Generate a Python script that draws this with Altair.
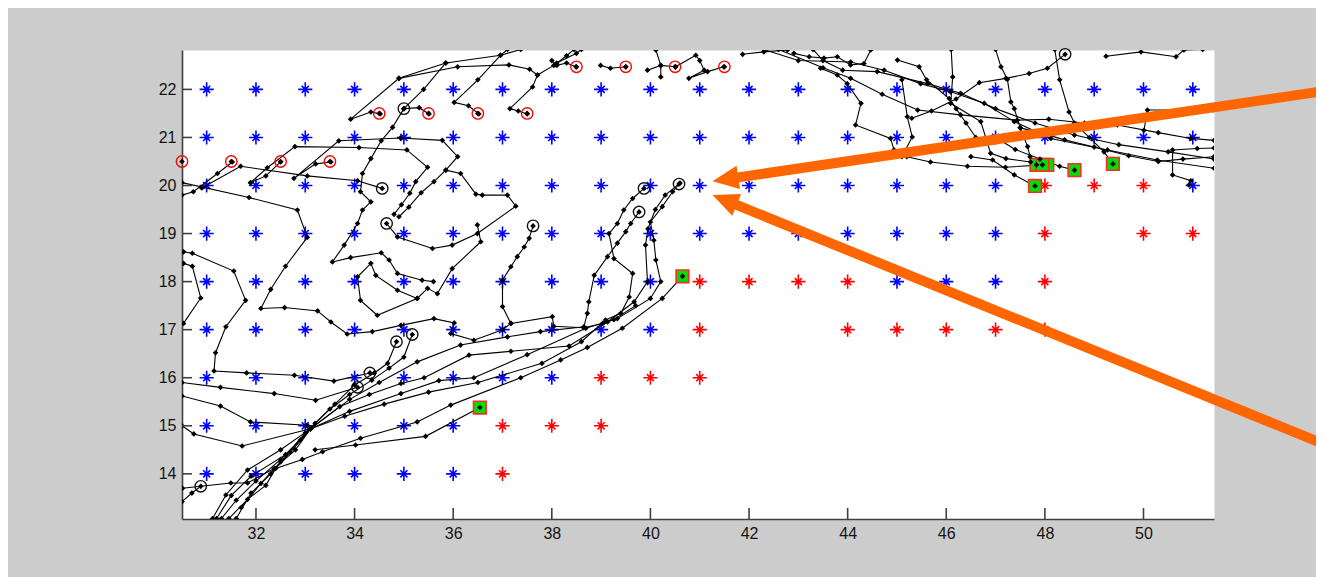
import math
import altair as alt
import pandas as pd

# ---------------- axes ----------------
X_DOMAIN = [30.5, 51.43]
Y_DOMAIN = [13.06, 22.82]
PLOT_W, PLOT_H = 1032, 469
X_TICKS = [32, 34, 36, 38, 40, 42, 44, 46, 48, 50]
Y_TICKS = [14, 15, 16, 17, 18, 19, 20, 21, 22]

# ---------------- grid of asterisks (lat -> list of lon) ----------------
BLUE_ROWS = {
    22: [31, 32, 33, 34, 35, 36, 37, 38, 39, 40, 41, 42, 43, 44, 45, 46, 47, 48, 49, 50, 51],
    21: [31, 32, 33, 34, 35, 36, 37, 38, 39, 40, 41, 42, 43, 44, 45, 46, 47, 48, 49, 50, 51],
    20: [31, 32, 33, 34, 35, 36, 37, 38, 39, 40, 41, 42, 43, 44, 45, 46, 47, 51],
    19: [31, 32, 33, 34, 35, 36, 37, 38, 39, 40, 41, 42, 43, 44, 45, 46, 47],
    18: [31, 32, 33, 34, 35, 36, 37, 38, 39, 40, 45, 46, 47],
    17: [31, 32, 33, 34, 35, 36, 37, 38, 39, 40],
    16: [31, 32, 33, 34, 35, 36, 37, 38],
    15: [31, 32, 33, 34, 35, 36],
    14: [31, 32, 33, 34, 35, 36],
}
RED_ROWS = {
    20: [48, 49, 50],
    19: [48, 50, 51],
    18: [41, 42, 43, 44, 48],
    17: [41, 44, 45, 46, 47, 48],
    16: [39, 40, 41],
    15: [37, 38, 39],
    14: [37],
}

# ---------------- special markers ----------------
START_LON = [30.5, 31.5, 32.5, 33.5, 34.5, 35.5, 36.5, 37.5, 38.5, 39.5, 40.5, 41.5]
START_LAT = [20.5, 20.5, 20.5, 20.5, 21.5, 21.5, 21.5, 21.5, 22.47, 22.47, 22.47, 22.47]

END_LON = [35.0, 34.56, 34.65, 37.62, 39.87, 40.58, 39.77, 34.85, 35.17, 34.31, 34.06, 30.88, 48.41]
END_LAT = [21.6, 19.94, 19.21, 19.16, 19.94, 20.03, 19.45, 16.75, 16.9, 16.1, 15.8, 13.74, 22.73]

GREEN_LON = [36.54, 40.65, 47.83, 48.05, 47.95, 48.6, 49.38, 47.8]
GREEN_LAT = [15.38, 18.11, 20.43, 20.43, 20.43, 20.32, 20.45, 19.99]

# ---------------- arrows (annotation) ----------------
ARROW_START_LON = [53.75, 53.75]
ARROW_START_LAT = [21.98, 14.58]
ARROW_TIP_LON = [41.26, 41.26]
ARROW_TIP_LAT = [20.09, 19.80]

# ---------------- tracks [lon, lat] ----------------
T01 = [[31.45, 13.07], [31.83, 13.47], [32.2, 13.76], [32.4, 14.11], [32.94, 14.3], [33.35, 14.46], [34.12, 14.74], [35.27, 15.08], [35.95, 15.43], [37.37, 16.0], [38.18, 16.37], [38.72, 16.63], [39.43, 17.03], [40.24, 17.65], [40.65, 18.11]]
T02 = [[31.12, 13.07], [31.39, 13.56], [31.83, 14.08], [32.5, 14.5], [33.11, 14.94], [33.9, 15.3], [34.94, 15.67], [35.71, 15.94], [36.42, 16.0], [37.5, 16.48], [38.69, 17.03], [39.33, 17.23], [40.0, 17.65], [40.21, 18.0], [40.11, 18.45], [40.07, 18.86], [40.0, 19.24], [40.24, 19.56], [40.45, 19.87], [40.58, 20.03]]
T03 = [[30.51, 13.7], [31.49, 13.81], [31.83, 13.81], [32.37, 14.11], [32.8, 14.5], [33.11, 14.94], [33.7, 15.4], [34.3, 15.65], [34.94, 15.88], [35.41, 16.0], [36.32, 16.47], [37.17, 16.55], [38.35, 16.66], [39.13, 17.16], [39.67, 17.58], [39.94, 18.0], [39.9, 18.76], [39.95, 19.1], [40.1, 19.5], [40.3, 19.8], [40.6, 20.05]]
T04 = [[31.2, 13.07], [31.5, 13.55], [31.9, 13.95], [32.6, 14.4], [33.11, 14.94], [33.8, 15.2], [34.6, 15.45], [35.5, 15.7], [36.5, 15.9], [37.8, 16.3], [38.6, 16.75], [39.09, 17.2], [39.4, 17.34], [39.57, 17.68], [39.64, 18.17], [39.26, 18.48], [39.16, 19.0], [39.33, 19.21], [39.46, 19.49], [39.64, 19.73], [39.87, 19.94]]
T05 = [[31.6, 13.07], [31.9, 13.6], [32.3, 14.0], [32.7, 14.45], [33.11, 14.94], [33.9, 15.55], [34.5, 15.9], [35.27, 16.33], [36.15, 16.68], [37.1, 16.85], [37.77, 16.96], [38.65, 17.06], [38.72, 17.34], [38.75, 17.58], [38.86, 18.13], [39.13, 18.52], [39.33, 18.8], [39.5, 19.04], [39.6, 19.21], [39.77, 19.45]]
T06 = [[31.3, 13.07], [31.6, 13.45], [32.0, 13.85], [32.5, 14.3], [32.9, 14.7], [33.2, 15.05], [33.6, 15.45], [34.0, 15.85], [34.4, 16.1], [34.67, 16.3], [34.85, 16.75]]
T07 = [[31.7, 13.3], [32.1, 13.8], [32.5, 14.25], [33.0, 14.85], [33.5, 15.35], [33.9, 15.65], [34.35, 15.95], [34.7, 16.2], [35.0, 16.43], [35.17, 16.9]]
T08 = [[30.5, 13.42], [30.7, 13.6], [30.88, 13.74]]
T09 = [[33.2, 14.5], [34.02, 14.6], [35.44, 14.78], [36.54, 15.38]]
T10 = [[30.5, 15.9], [31.28, 15.8], [32.37, 15.67], [33.21, 15.53], [34.06, 15.8]]
T11 = [[30.53, 18.62], [30.71, 18.59], [31.55, 18.22], [31.79, 17.61], [31.39, 17.06], [31.18, 16.52], [31.15, 16.14], [31.81, 16.1], [32.78, 16.05], [33.58, 15.93], [34.31, 16.1]]
T12 = [[30.53, 18.38], [30.71, 18.32], [30.88, 17.66], [30.53, 17.13]]
T13 = [[30.5, 15.62], [31.28, 15.41], [31.89, 15.08], [33.04, 15.01], [33.11, 14.94]]
T14 = [[30.5, 15.0], [30.74, 14.83], [31.72, 14.58], [33.11, 14.94]]
T15 = [[30.5, 20.06], [31.86, 19.75], [32.84, 19.49], [33.04, 18.92], [32.6, 18.32], [32.3, 17.84], [32.1, 17.44], [32.58, 17.46], [33.25, 17.39], [33.52, 17.16], [33.85, 16.91], [34.36, 16.96], [34.94, 17.09], [35.61, 17.23], [36.02, 17.14], [35.95, 16.92], [36.42, 16.78], [37.0, 17.0], [37.17, 17.13], [38.01, 17.27], [38.04, 17.07], [38.65, 17.04], [39.03, 17.13], [39.26, 17.21], [39.7, 17.5]]
T16 = [[37.17, 17.13], [37.0, 17.48], [37.0, 18.03], [37.17, 18.31], [37.3, 18.52], [37.44, 18.72], [37.54, 18.9], [37.62, 19.16]]
T17 = [[34.65, 19.21], [34.87, 18.93], [35.58, 18.69], [35.98, 18.76], [36.49, 19.0], [37.27, 19.57], [37.1, 19.8], [36.59, 19.8], [36.46, 19.82], [36.15, 20.25], [35.85, 20.32]]
T18 = [[31.89, 20.06], [32.23, 20.37], [32.79, 20.81], [34.09, 20.79], [35.06, 20.74], [35.48, 20.38], [35.24, 20.08], [35.12, 19.84], [34.95, 19.6], [34.8, 19.4]]
T19 = [[33.52, 20.49], [33.21, 20.45], [32.77, 20.15], [33.68, 20.93], [34.93, 20.99], [35.78, 20.94], [36.09, 20.6], [35.85, 20.32], [35.61, 20.08], [35.35, 19.85], [35.1, 19.55], [34.9, 19.35]]
T20 = [[31.52, 20.49], [31.22, 20.25], [30.73, 19.87], [30.5, 19.8]]
T21 = [[32.5, 20.49], [32.2, 20.2], [31.89, 20.06]]
T22 = [[30.9, 19.95], [31.69, 20.4], [33.04, 20.2], [34.06, 20.1], [34.56, 19.94]]
T23 = [[35.51, 21.49], [35.31, 21.62], [35.0, 21.6]]
T24 = [[35.0, 21.6], [34.77, 21.21], [34.54, 20.93], [34.33, 20.56], [34.16, 20.25], [34.12, 19.87], [34.33, 19.66], [34.16, 19.49], [34.06, 19.21], [33.79, 18.76], [33.55, 18.41], [33.92, 18.5], [34.54, 18.6], [34.7, 18.45], [34.87, 18.17], [35.37, 18.03], [35.6, 18.0]]
T25 = [[36.49, 19.18], [36.56, 18.83], [35.98, 18.27], [35.68, 17.75], [35.48, 17.86], [35.27, 17.65], [34.46, 17.3], [34.12, 17.61], [34.06, 18.1], [34.33, 18.38], [34.43, 18.13], [34.87, 17.82], [35.27, 17.65]]
T26 = [[35.0, 21.6], [35.4, 22.0], [35.85, 22.55]]
T27 = [[34.52, 21.49], [34.33, 21.53], [33.92, 21.38], [34.9, 22.23], [35.85, 22.55], [36.96, 22.71], [37.37, 22.83]]
T28 = [[36.52, 21.49], [36.31, 21.66], [36.02, 21.73], [36.5, 22.2], [36.96, 22.71], [37.1, 22.83]]
T29 = [[37.5, 21.49], [37.32, 21.55], [37.15, 21.6], [37.61, 22.05], [37.71, 22.3], [37.55, 22.42], [37.13, 22.51], [36.09, 22.47], [34.9, 22.23]]
T30 = [[37.71, 22.3], [38.04, 22.5], [38.3, 22.7], [38.45, 22.83]]
T31 = [[38.49, 22.47], [38.3, 22.55], [38.1, 22.5], [38.0, 22.6]]
T32 = [[38.1, 22.55], [38.5, 22.75], [38.6, 22.83]]
T33 = [[39.5, 22.47], [39.19, 22.44], [38.99, 22.5]]
T34 = [[40.51, 22.47], [40.21, 22.5], [39.94, 22.4]]
T35 = [[40.11, 22.82], [40.21, 22.5], [40.21, 22.26]]
T36 = [[40.51, 22.47], [40.92, 22.71], [41.0, 22.6], [41.09, 22.4], [40.78, 22.23], [41.16, 22.37], [41.49, 22.47]]
T37 = [[41.87, 22.73], [42.3, 22.78], [42.78, 22.82]]
R01 = [[42.91, 22.75], [43.22, 22.68], [43.52, 22.65], [43.79, 22.68], [44.06, 22.51], [44.33, 22.54], [44.47, 22.82]]
R02 = [[43.45, 22.44], [43.79, 22.3], [43.99, 22.12], [44.27, 21.71], [44.16, 21.26], [44.87, 20.98], [44.94, 20.74], [45.2, 20.6], [45.68, 20.49], [46.43, 20.4], [47.2, 20.38], [47.95, 20.43]]
R03 = [[42.3, 22.83], [43.0, 22.6], [44.06, 22.57], [44.74, 22.4], [45.48, 22.12], [46.09, 21.95], [46.77, 21.71], [47.38, 21.33], [48.12, 20.98], [49.27, 20.74], [50.28, 20.53], [51.43, 20.36]]
R04 = [[42.6, 22.83], [43.5, 22.45], [44.06, 22.23], [44.7, 21.9], [45.42, 21.57], [46.29, 21.47], [47.44, 21.36], [48.08, 21.38], [48.8, 21.3], [49.47, 21.26], [50.3, 21.1], [50.96, 20.98], [51.43, 20.94]]
R05 = [[48.41, 22.73], [48.05, 22.44], [47.68, 22.33], [47.21, 22.23], [46.67, 22.14], [46.2, 21.8], [45.7, 21.55], [45.3, 21.4]]
R06 = [[46.1, 22.83], [46.13, 22.26], [46.09, 21.71], [46.7, 21.33], [46.9, 20.67], [47.21, 20.56], [47.71, 20.49], [47.83, 20.43]]
R07 = [[47.0, 22.83], [47.11, 22.47], [47.24, 22.21], [47.31, 21.74], [47.38, 21.6], [47.5, 21.2], [47.65, 20.81], [47.7, 20.6]]
R08 = [[46.5, 20.6], [46.94, 20.53], [47.38, 20.22], [47.8, 19.99]]
R09 = [[48.2, 22.83], [48.3, 22.2], [48.49, 21.53], [48.6, 21.3], [48.9, 21.0], [49.2, 20.7], [49.38, 20.45]]
R10 = [[47.0, 21.0], [47.4, 20.75], [47.9, 20.55], [48.3, 20.4], [48.6, 20.32]]
R11 = [[49.24, 22.69], [49.95, 22.78], [50.66, 22.68], [50.82, 22.82], [51.2, 22.83]]
R12 = [[51.43, 20.78], [51.09, 20.77], [50.59, 20.74], [50.59, 20.22], [50.96, 20.1], [50.92, 20.01]]
R13 = [[50.01, 21.15], [50.08, 21.57], [51.43, 21.57]]
R14 = [[51.43, 20.6], [50.8, 20.55], [50.3, 20.5], [49.7, 20.62], [49.0, 20.8], [48.4, 20.95], [47.9, 21.1], [47.5, 21.2]]
R15 = [[45.1, 22.2], [45.21, 21.43], [45.31, 21.01], [45.1, 20.6]]
R16 = [[45.01, 22.61], [45.45, 22.47], [45.6, 22.2], [46.06, 21.81], [46.2, 21.6], [46.4, 21.3], [46.6, 21.0]]
R17 = [[43.3, 22.83], [43.5, 22.6], [43.9, 22.4], [44.6, 22.37], [45.62, 22.12], [46.29, 21.92], [47.0, 21.6], [47.8, 21.3], [48.6, 21.05], [49.5, 20.85], [50.5, 20.7], [51.43, 20.55]]

TRACKS = [T01, T02, T03, T04, T05, T06, T07, T08, T09, T10, T11, T12, T13, T14, T15,
          T16, T17, T18, T19, T20, T21, T22, T23, T24, T25, T26, T27, T28, T29, T30,
          T31, T32, T33, T34, T35, T36, T37, R01, R02, R03, R04, R05, R06, R07, R08,
          R09, R10, R11, R12, R13, R14, R15, R16, R17]

# ---------------- tables ----------------
track_rows = []
for ti, tr in enumerate(TRACKS):
    for si, (lo, la) in enumerate(tr):
        track_rows.append({"track": ti, "seq": si, "lon": lo, "lat": la})
tracks_df = pd.DataFrame(track_rows)

blue_df = pd.DataFrame([{"lon": lo, "lat": la} for la, lons in BLUE_ROWS.items() for lo in lons])
red_df = pd.DataFrame([{"lon": lo, "lat": la} for la, lons in RED_ROWS.items() for lo in lons])
start_df = pd.DataFrame({"lon": START_LON, "lat": START_LAT})
end_df = pd.DataFrame({"lon": END_LON, "lat": END_LAT})
green_df = pd.DataFrame({"lon": GREEN_LON, "lat": GREEN_LAT})
xt_df = pd.DataFrame({"v": X_TICKS})
yt_df = pd.DataFrame({"v": Y_TICKS})

KX = PLOT_W / (X_DOMAIN[1] - X_DOMAIN[0])
KY = PLOT_H / (Y_DOMAIN[1] - Y_DOMAIN[0])
HEAD_LEN = 26
arrow_rows = []
for sx, sy, tx, ty in zip(ARROW_START_LON, ARROW_START_LAT, ARROW_TIP_LON, ARROW_TIP_LAT):
    dxs = (sx - tx) * KX
    dys = -(sy - ty) * KY
    ang = math.degrees(math.atan2(dys, dxs))
    base_lon = tx + (HEAD_LEN * 0.8) * math.cos(math.radians(ang)) / KX
    base_lat = ty - (HEAD_LEN * 0.8) * math.sin(math.radians(ang)) / KY
    arrow_rows.append({"sx": sx, "sy": sy, "tx": tx, "ty": ty,
                       "bx": base_lon, "by": base_lat, "ang": ang % 360})
arrow_df = pd.DataFrame(arrow_rows)

# ---------------- encodings ----------------
FONT = "Liberation Sans"
XSC = alt.Scale(domain=X_DOMAIN, nice=False, zero=False)
YSC = alt.Scale(domain=Y_DOMAIN, nice=False, zero=False)
XAX = alt.Axis(values=X_TICKS, ticks=False, grid=False, title=None, domainColor="#404040",
               domainWidth=1.6, labelFont=FONT, labelFontSize=16, labelColor="#141414",
               labelPadding=6, labelFlush=False, labelOverlap=False)
YAX = alt.Axis(values=Y_TICKS, ticks=False, grid=False, title=None, domainColor="#404040",
               domainWidth=1.6, labelFont=FONT, labelFontSize=16, labelColor="#141414",
               labelPadding=6, labelFlush=False, labelOverlap=False)


def ex(f):
    return alt.X(f, type="quantitative", scale=XSC, axis=XAX)


def ey(f):
    return alt.Y(f, type="quantitative", scale=YSC, axis=YAX)


STAR = "M-1,0L1,0M0,-1L0,1M-0.5,-0.5L0.5,0.5M-0.5,0.5L0.5,-0.5"
HEAD = "M0,0L2,-0.9L2,0.9Z"

blue_layer = alt.Chart(blue_df).mark_point(shape=STAR, filled=False, color="#0000ff",
                                           size=200, strokeWidth=1.6, opacity=1).encode(x=ex("lon"), y=ey("lat"))
red_layer = alt.Chart(red_df).mark_point(shape=STAR, filled=False, color="#ff0000",
                                         size=200, strokeWidth=1.6, opacity=1).encode(x=ex("lon"), y=ey("lat"))

lines = alt.Chart(tracks_df).mark_line(color="black", strokeWidth=1.1, clip=True).encode(
    x=ex("lon"), y=ey("lat"), detail="track:N", order="seq:Q")

start_layer = alt.Chart(start_df).mark_point(shape="circle", filled=False, color="#ff0000",
                                             size=130, strokeWidth=1.4, opacity=1).encode(x=ex("lon"), y=ey("lat"))
end_layer = alt.Chart(end_df).mark_point(shape="circle", filled=False, color="#111111",
                                         size=130, strokeWidth=1.4, opacity=1).encode(x=ex("lon"), y=ey("lat"))
green_layer = alt.Chart(green_df).mark_point(shape="square", filled=True, fill="#00e000",
                                             stroke="#ff2a2a", strokeWidth=1.6, size=160,
                                             opacity=1).encode(x=ex("lon"), y=ey("lat"))

diamonds = alt.Chart(tracks_df).mark_point(shape="diamond", filled=True, color="black",
                                           size=32, opacity=1, clip=True).encode(x=ex("lon"), y=ey("lat"))
start_dia = alt.Chart(start_df).mark_point(shape="diamond", filled=True, color="black",
                                           size=32, opacity=1).encode(x=ex("lon"), y=ey("lat"))

xticks = alt.Chart(xt_df).mark_rule(color="#404040", strokeWidth=1.6).encode(
    x=ex("v"), y=alt.value(PLOT_H), y2=alt.value(PLOT_H - 11))
yticks = alt.Chart(yt_df).mark_rule(color="#404040", strokeWidth=1.6).encode(
    y=ey("v"), x=alt.value(0), x2=alt.value(10))

shafts = alt.Chart(arrow_df).mark_rule(color="#ff6600", strokeWidth=10, strokeCap="butt").encode(
    x=ex("sx"), y=ey("sy"), x2="bx:Q", y2="by:Q")
heads = alt.Chart(arrow_df).mark_point(shape=HEAD, filled=True, color="#ff6600", size=676,
                                       opacity=1).encode(
    x=ex("tx"), y=ey("ty"), angle=alt.Angle("ang:Q", scale=None))

chart = alt.layer(
    blue_layer, red_layer, lines, start_layer, end_layer, green_layer, diamonds, start_dia,
    xticks, yticks, shafts, heads
).properties(
    width=PLOT_W, height=PLOT_H,
    padding={"left": 174, "top": 42, "right": 102, "bottom": 58},
    autosize=alt.AutoSizeParams(type="none"),
    background="#cccccc",
).configure_view(fill="white", stroke="transparent")

chart.save("out.html", embed_options={"renderer": "svg", "actions": False})
